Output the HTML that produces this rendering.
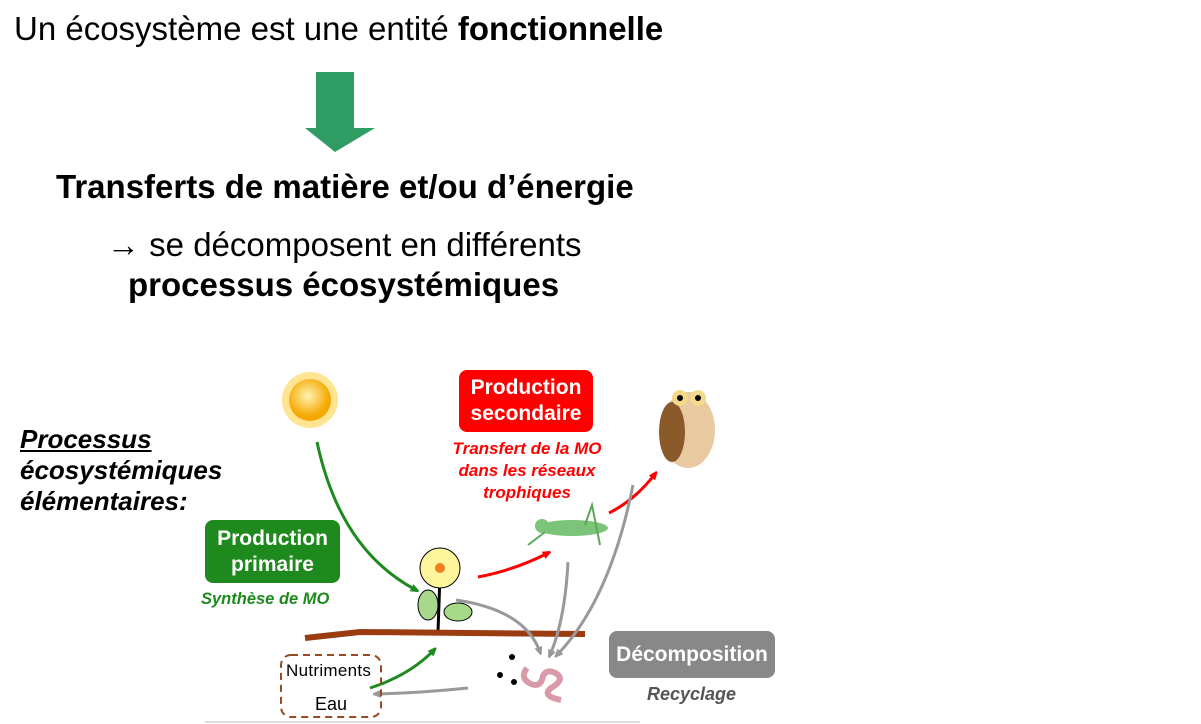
<!DOCTYPE html>
<html><head><meta charset="utf-8"><style>
body{margin:0;width:1201px;height:724px;background:#fff;position:relative;overflow:hidden;font-family:"Liberation Sans",sans-serif}
.t{position:absolute;white-space:nowrap}
.box{position:absolute;border-radius:8px;color:#fff;font-weight:bold;font-size:21px;text-align:center;line-height:26px;display:flex;align-items:center;justify-content:center}
</style></head><body>
<div class="t" style="left:14px;top:10px;font-size:33px">Un écosystème est une entité <b>fonctionnelle</b></div>
<svg style="position:absolute;left:300px;top:70px" width="80" height="85"><polygon points="16,2 54,2 54,58 75,58 35,82 5,58 16,58" fill="#2e9c63"/></svg>
<div class="t" style="left:56px;top:168px;font-size:33px;font-weight:bold">Transferts de matière et/ou d’énergie</div>
<div class="t" style="left:107px;top:226px;font-size:33px">→ se décomposent en différents</div>
<div class="t" style="left:128px;top:266px;font-size:33px;font-weight:bold">processus écosystémiques</div>
<div class="t" style="left:20px;top:424px;font-size:26px;font-weight:bold;font-style:italic;line-height:31px"><u>Processus</u><br>écosystémiques<br>élémentaires:</div>
<svg style="position:absolute;left:0;top:0" width="1201" height="724">
<defs>
<marker id="mg" markerWidth="8" markerHeight="8" refX="5" refY="4" orient="auto" markerUnits="userSpaceOnUse"><path d="M0,0L10,4L0,8z" fill="#1e8a1e"/></marker>
<marker id="mr" markerWidth="8" markerHeight="8" refX="5" refY="4" orient="auto" markerUnits="userSpaceOnUse"><path d="M0,0L10,4L0,8z" fill="#f00"/></marker>
<marker id="my" markerWidth="8" markerHeight="8" refX="5" refY="4" orient="auto" markerUnits="userSpaceOnUse"><path d="M0,0L10,4L0,8z" fill="#999"/></marker>
<radialGradient id="sg" cx="0.45" cy="0.4"><stop offset="0" stop-color="#fff2b0"/><stop offset="1" stop-color="#f5a800"/></radialGradient>
</defs>
<g><circle cx="310" cy="400" r="28" fill="#ffd24a" opacity="0.6"/><circle cx="310" cy="400" r="21" fill="url(#sg)"/></g>
<g><ellipse cx="688" cy="430" rx="27" ry="38" fill="#e8c9a0"/><ellipse cx="672" cy="432" rx="13" ry="30" fill="#8a5a2b"/><circle cx="680" cy="398" r="8" fill="#f5d98a"/><circle cx="698" cy="398" r="8" fill="#f5d98a"/><circle cx="680" cy="398" r="3"/><circle cx="698" cy="398" r="3"/></g>
<g><ellipse cx="572" cy="528" rx="36" ry="8" fill="#7cc47a"/><circle cx="542" cy="526" r="7" fill="#7cc47a"/><path d="M585,525 L592,505 L600,545 M528,545 L545,532" stroke="#5aa85a" stroke-width="2" fill="none"/></g>
<g><line x1="440" y1="575" x2="438" y2="632" stroke="#000" stroke-width="3"/><ellipse cx="428" cy="605" rx="10" ry="15" fill="#a8d88a" stroke="#000"/><ellipse cx="458" cy="612" rx="14" ry="9" fill="#a8d88a" stroke="#000"/><circle cx="440" cy="568" r="20" fill="#fff59a" stroke="#000"/><circle cx="440" cy="568" r="5" fill="#f08020"/></g>
<path d="M305,638 L360,632 L585,634" stroke="#9a3b10" stroke-width="6" fill="none"/>
<g><path d="M527,668 q-8,10 4,16 q10,4 12,-8 q4,-8 14,-2 q8,6 -6,14 q-10,8 10,12" stroke="#d89aa8" stroke-width="6" fill="none"/><circle cx="512" cy="657" r="3"/><circle cx="500" cy="675" r="3"/><circle cx="514" cy="682" r="3"/></g>
<path d="M317,442 Q340,550 416,590" stroke="#1e8a1e" stroke-width="3" fill="none" marker-end="url(#mg)"/>
<path d="M478,577 Q515,570 548,553" stroke="#f00" stroke-width="3" fill="none" marker-end="url(#mr)"/>
<path d="M609,513 Q635,500 655,474" stroke="#f00" stroke-width="3" fill="none" marker-end="url(#mr)"/>
<path d="M456,600 Q525,610 540,652" stroke="#999" stroke-width="3" fill="none" marker-end="url(#my)"/>
<path d="M568,562 Q565,620 550,655" stroke="#999" stroke-width="3" fill="none" marker-end="url(#my)"/>
<path d="M633,485 Q610,600 557,655" stroke="#999" stroke-width="3" fill="none" marker-end="url(#my)"/>
<path d="M370,688 Q410,675 434,650" stroke="#1e8a1e" stroke-width="3" fill="none" marker-end="url(#mg)"/>
<path d="M468,688 Q420,693 376,694" stroke="#999" stroke-width="3" fill="none" marker-end="url(#my)"/>
<rect x="281" y="655" width="100" height="62" rx="10" fill="none" stroke="#9a4a20" stroke-width="2" stroke-dasharray="7,5"/>
<line x1="205" y1="722" x2="640" y2="722" stroke="#ddd" stroke-width="2"/>
</svg>
<div class="t" style="left:286px;top:661px;font-size:17px;letter-spacing:0.3px">Nutriments</div>
<div class="t" style="left:315px;top:694px;font-size:18px">Eau</div>
<div class="box" style="left:459px;top:370px;width:134px;height:62px;background:#f00">Production<br>secondaire</div>
<div class="t" style="left:427px;top:438px;width:200px;text-align:center;font-size:17px;font-weight:bold;font-style:italic;color:#f00;line-height:22px">Transfert de la MO<br>dans les réseaux<br>trophiques</div>
<div class="box" style="left:205px;top:520px;width:135px;height:63px;background:#1e8a1e">Production<br>primaire</div>
<div class="t" style="left:201px;top:590px;font-size:16.5px;font-weight:bold;font-style:italic;color:#1e8a1e">Synthèse de MO</div>
<div class="box" style="left:609px;top:631px;width:166px;height:47px;background:#888">Décomposition</div>
<div class="t" style="left:647px;top:684px;font-size:18px;font-weight:bold;font-style:italic;color:#555">Recyclage</div>
</body></html>
